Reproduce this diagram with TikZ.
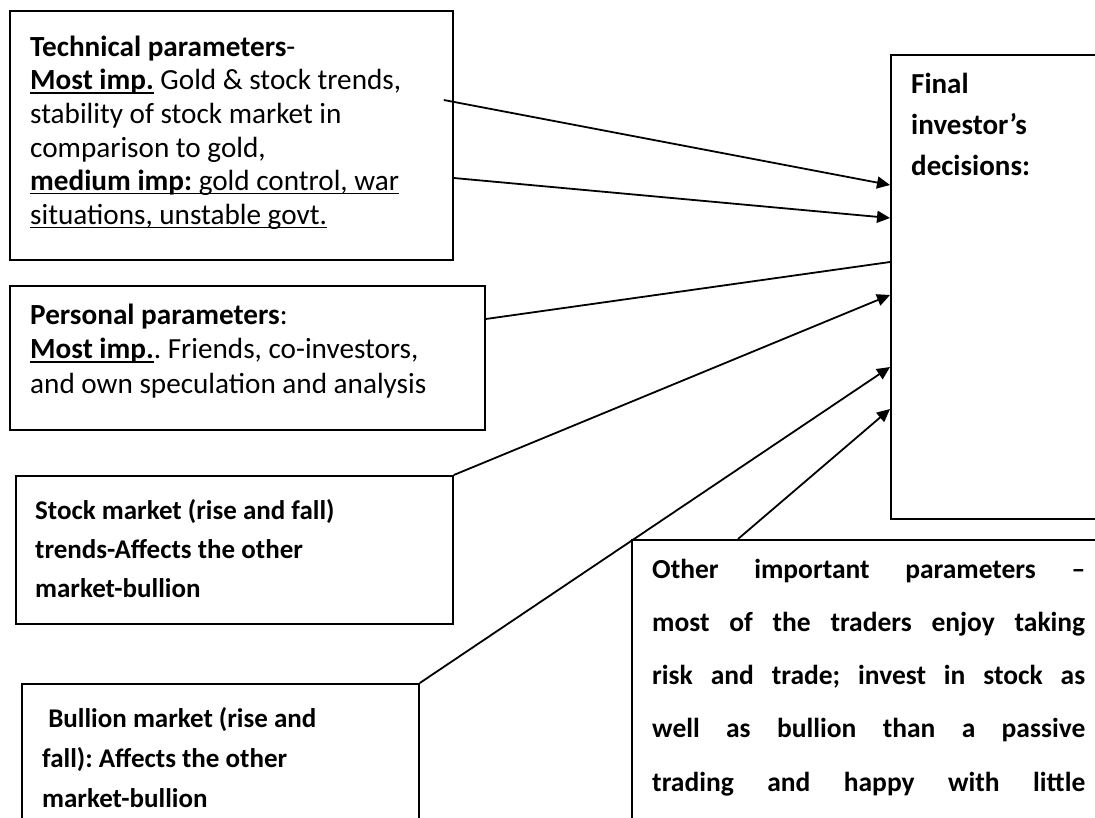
\documentclass[tikz,border=0pt]{standalone}
\usepackage{fontspec}
\setmainfont{Carlito}
\usetikzlibrary{arrows.meta,calc}
\frenchspacing
% underline drawn at a fixed depth below the baseline
\newsavebox{\undlbox}
\newcommand{\undl}[1]{\sbox{\undlbox}{#1}\rlap{\rule[-3.8pt]{\wd\undlbox}{1.5pt}}\usebox{\undlbox}}
% strut that fixes the first baseline 22pt below a text block's top
\newcommand{\firststrut}{\rule{0pt}{22pt}}

\begin{document}
\begin{tikzpicture}[x=1pt,y=-1pt,
  box/.style={draw, line width=1.8pt, rectangle, inner sep=0pt, anchor=north west},
  body/.style={anchor=north west, inner sep=0pt, align=left},
  link/.style={line width=1.8pt},
  feed/.style={link, -{Triangle[length=13pt,width=12pt]}}]

\path[use as bounding box] (0,0) rectangle (1095,817);
\fill[white] (0,0) rectangle (1095,817);
\clip (0,0) rectangle (1095,817);

% ---- input boxes ----
\node[box, minimum width=443pt, minimum height=249pt] (tech) at (9,10) {};
\node[body, font=\fontsize{29.2}{33.6}\selectfont] (techtext) at (30,34) {%
  \firststrut\textbf{Technical parameters}-\\
  \undl{\textbf{Most imp.}} Gold \& stock trends,\\
  stability of stock market in\\
  comparison to gold,\\
  \undl{\textbf{medium imp:} gold control, war}\\
  \undl{situations, unstable govt.}};

\node[box, minimum width=475pt, minimum height=144pt] (pers) at (9,285) {};
\node[body, font=\fontsize{29.2}{34.5}\selectfont] (perstext) at (30,302) {%
  \firststrut\textbf{Personal parameters}:\\
  \undl{\textbf{Most imp.}}. Friends, co-investors,\\
  and own speculation and analysis};

\node[box, minimum width=437pt, minimum height=148pt] (stock) at (15,475) {};
\node[body, font=\bfseries\fontsize{27}{39}\selectfont] (stocktext) at (35,497) {%
  \firststrut Stock market (rise and fall)\\
  trends-Affects the other\\
  market-bullion};

\node[box, minimum width=397pt, minimum height=200pt] (bull) at (21,683) {};
\node[body, font=\bfseries\fontsize{27}{40}\selectfont] (bulltext) at (42,705) {%
  \firststrut\ Bullion market (rise and\\
  fall): Affects the other\\
  market-bullion};

\node[box, minimum width=500pt, minimum height=330pt] (other) at (631,539) {};
\node[body, font=\bfseries\fontsize{27.5}{53.2}\selectfont] (othertext) at (652,556) {%
  \firststrut\makebox[433pt][s]{Other important parameters –}\\
  \makebox[433pt][s]{most of the traders enjoy taking}\\
  \makebox[433pt][s]{risk and trade; invest in stock as}\\
  \makebox[433pt][s]{well as bullion than a passive}\\
  \makebox[433pt][s]{trading and happy with little}};

% ---- decision box ----
\node[box, minimum width=260pt, minimum height=464pt] (final) at (890,54) {};
\node[body, font=\bfseries\fontsize{29}{41}\selectfont] (finaltext) at (911,71) {%
  \firststrut Final\\
  investor’s\\
  decisions:};

% ---- connector end points ----
\coordinate (t1) at ($(tech.north east)+(-10,90)$);
\coordinate (t2) at ($(tech.north east)+(0,168)$);
\coordinate (p1) at ($(pers.north east)+(0,34)$);
\coordinate (o1) at ($(other.north west)+(107,0)$);
\coordinate (f1) at ($(final.north west)+(0,131)$);
\coordinate (f2) at ($(final.north west)+(0,164)$);
\coordinate (f3) at ($(final.north west)+(0,208)$);
\coordinate (f4) at ($(final.north west)+(0,241)$);
\coordinate (f5) at ($(final.north west)+(0,313)$);
\coordinate (f6) at ($(final.north west)+(0,355)$);

% ---- connectors ----
\draw[feed] (t1) -- (f1);
\draw[feed] (t2) -- (f2);
\draw[link] (p1) -- (f3);
\draw[feed] (stock.north east) -- (f4);
\draw[feed] (bull.north east) -- (f5);
\draw[feed] (o1) -- (f6);
\end{tikzpicture}
\end{document}
